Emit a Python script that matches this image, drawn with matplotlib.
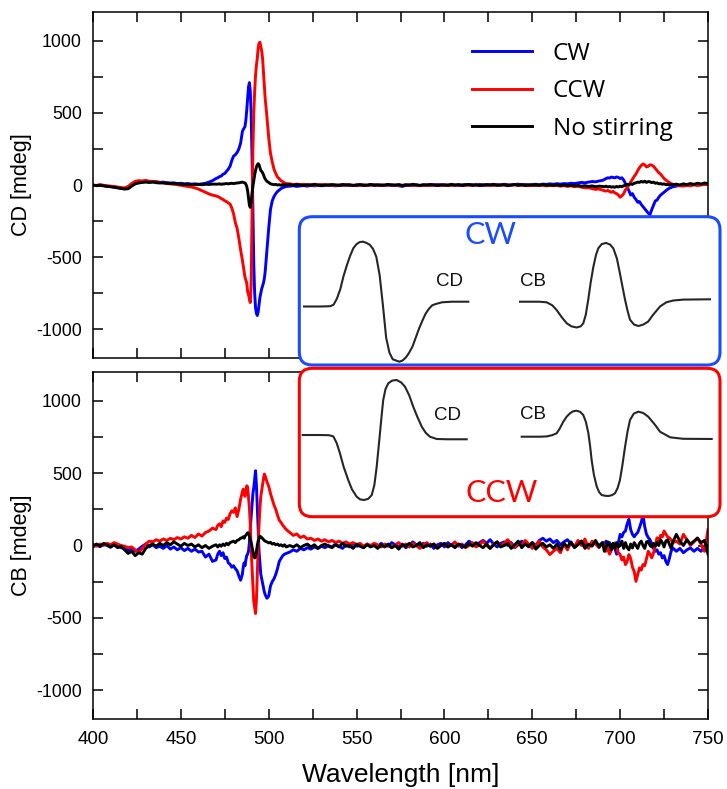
import numpy as np
import matplotlib
matplotlib.use('Agg')
import matplotlib.pyplot as plt
from matplotlib.ticker import MultipleLocator
from matplotlib.patches import FancyBboxPatch

# Grille de longueurs d'onde (plus fine autour du pic)
wl = np.concatenate([np.arange(400, 471, 2), np.arange(471, 486, 1),
                     np.arange(485.5, 498.01, 0.5), np.arange(499, 511, 1),
                     np.arange(512, 691, 2), np.arange(691, 731, 1),
                     np.arange(732, 751, 2)])

# CD [mdeg]
cd_cw = (
    [-2, -5, 0, -4, -8, -10, -14, -18, -22, -26, -20, -2, 12, 20, 22, 25, 20, 24,
     22, 18, 20, 16, 14, 15, 10, 12, 8, 10, 6, 8, 5, 8, 12, 20, 30, 45]
    + [50, 58, 62, 75, 80, 95, 110, 130, 170, 200, 210, 225, 250, 290, 370]
    + [385, 395, 405, 450, 520, 600, 680, 710, 650, 500, 200, -200, -550, -750,
       -850, -890, -905, -880, -830, -780, -750, -720, -700, -680, -650, -600]
    + [-450, -300, -170, -110, -80, -60, -45, -35, -25, -18, -14, -10]
    + [-8, -5, -10, -6, -4, -8, -3, -6, -2, -5, -4, 0, -3, -6, -2, -4, 2, -3, -1, -5, 0, -2, -4, 1, -2,
       -3, 0, -4, -1, 2, -2, -5, -10, -3, 0, -2, 1, -3, -1, 2, -2, 0, 3, -1, 1, -3, 2, 0, -2, 1,
       3, 0, 2, -1, 4, 1, -2, 3, 0, 2, -1, 5, 2, 0, 3, 6, 1, 4, 0, 3, 5, 2, 6, 4, 8,
       5, 9, 6, 10, 8, 12, 10, 14, 18, 15, 20, 24, 22, 28, 32]
    + [38, 45, 50, 48, 55, 52, 50, 56, 52, 45, 50, 35, 10, -15, -40, -70, -60, -85, -100, -120,
       -115, -135, -150, -165, -180, -195, -205, -170, -140, -110, -105, -85, -70, -60, -50,
       -40, -30, -22, -18, -12]
    + [-8, -2, 4, -3, 6, 2, 8, 4, 10, 6]
)
cd_ccw = (
    [0, -3, 2, -2, -6, -8, -10, -14, -18, -20, -10, 10, 25, 30, 28, 32, 26, 25,
     22, 18, 15, 10, 8, 5, 2, -2, -6, -10, -14, -20, -28, -40, -50, -62, -70, -76]
    + [-80, -86, -95, -100, -110, -115, -125, -132, -160, -200, -260, -300, -370, -450, -520]
    + [-560, -600, -640, -660, -680, -740, -760, -790, -815, -700, -200, 250, 500, 650,
       760, 830, 880, 950, 985, 990, 960, 930, 880, 780, 690, 600]
    + [470, 330, 220, 160, 110, 80, 55, 42, 30, 22, 15, 10]
    + [8, 4, 6, 2, 5, 0, 3, -2, 1, 4, -1, 2, 0, -3, 1, -2, 2, -1, -4, 0, -2, 1, -3, -1, 2,
       -2, 0, -3, 1, -1, -4, 0, -2, 2, -1, -3, 0, -5, -2, 1, -3, 0, -2, -4, -1, 1, -3, -2, 0, -4,
       -2, 0, -3, 1, -2, -4, 0, -1, -3, 2, -2, 0, -4, -1, 1, -3, -2, 0, -5, -2, -4, -1, -3, -6, -2,
       -5, -3, -8, -4, -10, -6, -12, -9, -15, -20, -18, -25, -30, -28, -35]
    + [-40, -42, -38, -45, -50, -44, -55, -60, -70, -85, -75, -60, -35, -20, 0, 20, 40, 60, 76, 100,
       120, 135, 146, 140, 125, 130, 140, 138, 130, 115, 100, 85, 76, 60, 45, 35, 25, 18, 10, 5]
    + [0, -5, -8, -3, -6, 2, -4, 0, 4, 8]
)
cd_none = (
    [-2, -4, -2, -6, -10, -12, -16, -20, -24, -28, -26, -8, 8, 14, 18, 20, 18, 20,
     16, 14, 15, 12, 10, 10, 8, 6, 4, 5, 3, 4, 4, 2, 5, 4, 6, 6]
    + [6, 8, 5, 7, 8, 10, 8, 10, 12, 10, 12, 14, 15, 18, 20]
    + [18, 16, 14, 5, -10, -40, -90, -140, -155, -120, -60, -10, 30, 70, 100, 125, 140,
       148, 140, 120, 100, 95, 85, 72, 55, 42]
    + [25, 18, 8, 5, 2, 4, 0, 2, -2, 3, 0, 2]
    + [3, -2, 4, 0, -3, 2, -1, 5, 0, -4, 2, -2, 3, 1, -3, 4, -1, 2, -4, 1, 3, -2, 0, 4, -1,
       2, -3, 1, 4, -2, 0, 3, -4, 1, -1, 5, 0, -3, 2, -2, 4, 1, -4, 2, 0, -2, 5, -1, 3, -3,
       1, 4, -2, 2, -4, 0, 3, -1, 5, -3, 1, 2, -5, 0, 4, -2, 3, -4, 1, -1, 2, -3, 4, -2, 0,
       -3, 2, -5, 0, -4, -2, -6, -3, -8, -5, -10, -6, -12, -8, -10]
    + [-12, -8, -14, -10, -15, -12, -16, -10, -14, -8, -12, -5, -2, 5, 2, 8, 4, 12, 15, 20,
       18, 25, 20, 26, 18, 24, 22, 16, 20, 12, 15, 8, 10, 5, 8, 2, 5, 0, 4, 2]
    + [6, 0, 8, 3, 10, 4, 12, 6, 14, 10]
)

# CB [mdeg]
cb_cw = (
    [-10, 5, -8, 10, 0, -12, 6, -5, -15, -20, -35, -20, -40, -25, -5, 10, -10, 5,
     -15, -5, -20, 0, -25, -10, -30, -15, -35, -20, -40, -25, -45, -40, -80, -60, -110, -100]
    + [-60, -40, -70, -50, -90, -80, -120, -130, -150, -140, -160, -175, -210, -240, -200]
    + [-150, -120, -140, -100, -70, -60, -40, 20, 120, 200, 280, 360, 400, 460, 517,
       420, 260, 100, -40, -120, -200, -230, -260, -290, -320, -340]
    + [-365, -350, -280, -250, -230, -200, -160, -110, -90, -70, -60, -55]
    + [-45, -30, -40, -20, -30, -15, -25, -10, -20, -5, -15, 0, -10, 10, -5, -20, 5, -10, 15, -5, 0, -15, 10, -5, 5,
       -10, 15, 0, -5, 20, 5, -10, 10, -15, 0, 25, 5, -10, 15, -5, 10, -20, 5, 15, -10, 20, 0, -5, 10, -15,
       5, 30, 10, -5, 20, 35, 15, 40, 10, -10, 15, 25, 0, 20, -15, 5, 30, 10, -10, 20, 0, 35, 50, 30, 45,
       20, 35, 5, 25, 40, 10, -5, 20, 30, 5, -10, 15, 25, 0, 20]
    + [10, 30, 0, 20, -10, 15, -20, -60, 20, 77, 60, 90, 100, 150, 181, 110, 77, 60, 77, 90,
       123, 160, 211, 130, 77, 55, 40, 10, -20, -40, -30, -60, -50, -86, -70, -110, -132, -90, -40, -17]
    + [-40, -20, -50, -30, -17, -40, -20, -40, -10, 0]
)
cb_ccw = (
    [5, -5, 10, 0, 15, 5, 20, 10, 0, -5, -15, -10, -30, -50, -20, 10, 30, 25,
     40, 30, 45, 35, 50, 40, 55, 45, 60, 50, 70, 55, 80, 65, 90, 100, 120, 110]
    + [140, 150, 130, 170, 160, 190, 180, 220, 240, 230, 260, 200, 250, 320, 370]
    + [390, 360, 340, 380, 413, 405, 330, 262, 150, -20, -150, -280, -388, -430, -470,
       -380, -202, 0, 146, 260, 340, 378, 420, 460, 494, 480]
    + [440, 410, 360, 320, 280, 250, 210, 175, 160, 140, 125, 110]
    + [90, 70, 80, 55, 65, 45, 50, 35, 45, 30, 40, 25, 35, 20, 30, 15, 25, 10, 20, 5, 15, -5, 10, 0, 15,
       5, -10, 10, 0, -15, 5, 20, -5, 10, -10, 15, 0, -20, 5, 20, -5, 10, -15, 0, 15, -10, 5, 25, -5, 10,
       -15, 0, 20, -10, 5, 30, 0, -20, 10, 25, -5, 15, 40, 10, -15, 20, 0, 35, 10, -20, 5, 30, -10, -30, -63,
       -40, -20, -50, 10, -30, 20, -10, 35, 0, 45, -20, 30, 10, -15, 20]
    + [0, -40, -20, -60, -30, -10, 18, -20, -50, -63, -100, -80, -132, -110, -63, -90, -150, -180, -248, -200,
       -155, -170, -132, -140, -90, -40, -60, -86, -50, 0, 53, 30, 70, 60, 100, 80, 60, 53, 40, 20]
    + [30, 10, 77, 40, 0, 25, 53, 10, -40, 110]
)
cb_none = (
    [0, 10, -5, 15, 5, -10, 5, -15, -5, -30, -55, -40, -70, -50, -60, -20, 0, 10,
     -5, 15, 0, 20, 5, 25, 10, -5, 15, 0, 10, -10, 5, -15, 0, -20, -5, 5]
    + [-10, 5, -5, 10, 0, 15, 5, 20, 25, 30, 20, 35, 40, 50, 55]
    + [60, 50, 65, 70, 80, 88, 85, 70, 40, 20, -10, -40, -70, -86, -80, -40, 0, 30, 50,
       65, 60, 55, 48, 40, 35, 30]
    + [25, 18, 22, 10, 15, 5, 10, 0, 5, -5, 5, -10]
    + [0, -10, 5, -15, 0, 10, -10, 5, -20, 0, 10, -5, -15, 5, -10, 15, -5, 0, -20, 10, -5, -15, 5, -10, 0,
       -20, 5, -10, 10, -15, 0, -25, 5, -5, 15, -10, 0, 20, -15, 5, -5, 10, -20, 0, 15, -10, 5, -15, 10, 0,
       -10, 15, -5, 20, 0, -15, 10, -20, 5, 25, -10, 0, 15, -20, 5, 30, -15, 10, -5, 20, -25, 0, 15, -10, 5,
       -20, 10, -30, 15, -10, 25, -15, 5, 30, -20, 10, -5, 35, -10, 20]
    + [-40, -10, 25, 0, -30, 15, -20, 20, -10, 0, 30, -20, 20, -15, -30, 10, -17, 20, 0, -20,
       15, 30, 0, -20, 25, 30, 0, -10, 15, -5, 20, 0, 40, 20, -10, 30, 40, 10, -20, 25]
    + [77, 30, 0, 40, 10, 30, 50, 20, 35, -60]
)

# Schémas (unités arbitraires)
cw_cd_x = [0, .10, .16, .18, .20, .22, .24, .26, .28, .30, .32, .34, .36, .38, .40, .42, .44, .46, .48,
           .50, .52, .54, .56, .58, .60, .62, .64, .66, .68, .70, .72, .74, .76, .78, .80, .84, .90, 1.0]
cw_cd_y = [-.08, -.08, -.075, -.05, .05, .2, .42, .6, .76, .89, .96, .995, 1.0, .98, .95, .88, .75, .45,
           -.05, -.6, -.85, -.96, -.98, -1.0, -.98, -.93, -.85, -.75, -.6, -.45, -.32, -.2, -.12, -.06,
           -.04, -.01, 0, 0]
cw_cb_x = [0, .10, .14, .17, .193, .22, .246, .27, .298, .32, .333, .346, .359, .372, .386, .40, .412,
           .43, .453, .475, .491, .51, .526, .54, .553, .566, .579, .60, .623, .65, .675, .70, .737,
           .77, .807, .86, 1.0]
cw_cb_y = [0, 0, -.01, -.06, -.14, -.26, -.36, -.41, -.43, -.41, -.36, -.22, .03, .32, .58, .78, .89,
           .96, .98, .95, .89, .72, .47, .24, .03, -.15, -.3, -.38, -.405, -.38, -.33, -.22, -.08,
           -.01, .02, .035, .04]
ccw_cd_x = [0, .10, .16, .187, .207, .227, .25, .278, .30, .329, .35, .374, .40, .421, .437, .451,
            .461, .471, .481, .491, .505, .522, .545, .573, .60, .624, .65, .674, .70, .726, .75,
            .776, .817, .88, 1.0]
ccw_cd_y = [.083, .083, .08, .06, -.05, -.22, -.45, -.67, -.82, -.945, -.99, -1.0, -.98, -.917,
            -.75, -.45, -.17, .11, .4, .667, .85, .945, .99, 1.0, .96, .888, .74, .555, .38, .222,
            .12, .055, .017, .012, .012]
ccw_cb_x = [0, .10, .132, .16, .184, .20, .219, .237, .254, .27, .289, .307, .324, .338, .351, .36,
            .368, .38, .395, .408, .421, .44, .456, .475, .491, .505, .517, .53, .544, .557, .57,
            .59, .614, .64, .666, .70, .728, .781, .85, 1.0]
ccw_cb_y = [.055, .055, .06, .08, .112, .19, .305, .39, .445, .478, .488, .47, .417, .3, .112, -.1,
            -.333, -.58, -.778, -.87, -.917, -.93, -.933, -.92, -.888, -.8, -.667, -.42, -.112, .14,
            .333, .44, .472, .45, .388, .26, .138, .045, .02, .017]

W, H = 727, 789


def px_rect(x0, x1, y0, y1):
    return [x0 / W, 1 - y1 / H, (x1 - x0) / W, (y1 - y0) / H]


plt.rcParams['font.family'] = ['Liberation Sans', 'DejaVu Sans']
plt.rcParams['axes.unicode_minus'] = False
fig = plt.figure(figsize=(W / 100, H / 100), dpi=100)

ax_cd = fig.add_axes(px_rect(93, 708, 12, 358))
ax_cb = fig.add_axes(px_rect(93, 708, 372, 719))

panels = [(ax_cd, cd_cw, cd_ccw, cd_none, 'CD [mdeg]'),
          (ax_cb, cb_cw, cb_ccw, cb_none, 'CB [mdeg]')]
for ax, cw, ccw, none, ylab in panels:
    ax.plot(wl, cw, color='#0000ff', lw=2.1, label='CW')
    ax.plot(wl, ccw, color='#ff0000', lw=2.1, label='CCW')
    ax.plot(wl, none, color='#000000', lw=2.1, label='No stirring')
    ax.set_xlim(400, 750)
    ax.set_ylim(-1200, 1200)
    ax.xaxis.set_major_locator(MultipleLocator(50))
    ax.xaxis.set_minor_locator(MultipleLocator(25))
    ax.yaxis.set_major_locator(MultipleLocator(500))
    ax.yaxis.set_minor_locator(MultipleLocator(250))
    ax.tick_params(which='both', direction='in', top=True, right=True,
                   length=7, width=1.1)
    ax.tick_params(axis='y', labelsize=12.8, pad=8)
    ax.tick_params(axis='x', labelsize=13.6, pad=9)
    for sp in ax.spines.values():
        sp.set_linewidth(1.1)
    ax.set_ylabel(ylab, fontsize=15.5)
    ax.yaxis.set_label_coords(-0.099, 0.5)

ax_cd.tick_params(labelbottom=False)
ax_cb.set_xlabel('Wavelength [nm]', fontsize=19)
ax_cb.xaxis.set_label_coords(0.5, -0.126)

ax_cd.legend(loc='upper left', bbox_to_anchor=(472 / W, 1 - 42 / H),
             bbox_transform=fig.transFigure, frameon=False,
             prop={'family': 'Open Sans', 'size': 17.5}, handlelength=2.47,
             handletextpad=0.86, labelspacing=0.55, borderpad=0, borderaxespad=0)

# Encadrés schématiques
for (y0, y1, col) in [(216.7, 365, '#1a4cff'), (368.3, 516.7, '#ff0000')]:
    box = FancyBboxPatch((299.3 / 100, (H - y1) / 100), (720 - 299.3) / 100, (y1 - y0) / 100,
                         boxstyle='round,pad=0,rounding_size=0.13',
                         transform=fig.dpi_scale_trans, facecolor='white',
                         edgecolor=col, lw=2.2, zorder=5)
    fig.add_artist(box)

curves = [(cw_cd_x, cw_cd_y, 304, 468.3, 301.7),
          (cw_cb_x, cw_cb_y, 520, 710, 301.7),
          (ccw_cd_x, ccw_cd_y, 302.7, 466.7, 440),
          (ccw_cb_x, ccw_cb_y, 521.7, 711.7, 440)]
for xs, ys, x0, x1, yc in curves:
    axi = fig.add_axes(px_rect(x0, x1, yc - 63, yc + 63), zorder=6)
    axi.plot(xs, ys, color='#262626', lw=1.5, clip_on=False)
    axi.set_xlim(0, 1)
    axi.set_ylim(-1.05, 1.05)
    axi.axis('off')

fig.text(490.7 / W, 1 - 235 / H, 'CW', color='#1a4cff', fontsize=22,
         family='Lato', ha='center', va='center', zorder=7)
fig.text(501.7 / W, 1 - 493.3 / H, 'CCW', color='#ff0000', fontsize=22,
         family='Lato', ha='center', va='center', zorder=7)
for (tx, ty, s) in [(449.3, 281.7, 'CD'), (533.3, 281.7, 'CB'),
                    (447.3, 416, 'CD'), (533.3, 414, 'CB')]:
    fig.text(tx / W, 1 - ty / H, s, color='#111111', fontsize=13.5,
             ha='center', va='center', zorder=7)

fig.savefig('out.png', dpi=100)
